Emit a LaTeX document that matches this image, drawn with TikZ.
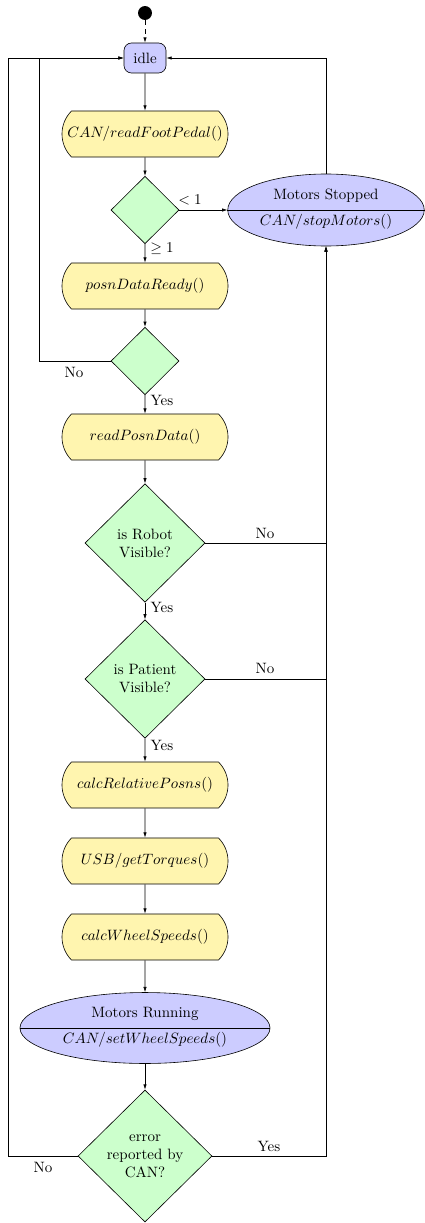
\documentclass[tikz,border=0pt]{standalone}
\usetikzlibrary{shapes.geometric,shapes.misc,arrows.meta}
\definecolor{stateblue}{RGB}{204,204,255}
\definecolor{procyellow}{RGB}{255,245,175}
\definecolor{decgreen}{RGB}{204,255,204}
\begin{document}
\begin{tikzpicture}[x=0.6667pt,y=-0.6667pt,
  every node/.style={inner sep=0pt},
  startdot/.style={circle,fill=black,minimum size=9.3pt},
  idlebox/.style={rectangle,rounded corners=5pt,draw,fill=stateblue,minimum width=28pt,minimum height=20pt},
  procbox/.style={rounded rectangle,rounded rectangle arc length=90,draw,fill=procyellow,minimum width=110.7pt,minimum height=30.7pt},
  decision/.style={diamond,aspect=1,draw,fill=decgreen,align=center},
  statell/.style={ellipse,draw,fill=stateblue},
  conn/.style={-{Latex[length=3.5pt,width=2.2pt]}},
  lbl/.style={inner sep=0pt}
]
\useasboundingbox (0,0) rectangle (424,1223);

% nodes of the main column
\node[startdot] (start) at (145,13) {};
\node[idlebox] (idle) at (145,58) {idle};
\node[procbox] (pedal) at (145,134) {$CAN/readFootPedal()$};
\node[decision,minimum width=45.3pt,minimum height=45pt] (dpedal) at (145,210) {};
\node[procbox] (ready) at (145,286) {$posnDataReady()$};
\node[decision,minimum width=45.3pt,minimum height=45pt] (dready) at (145,361) {};
\node[procbox] (readposn) at (145,437) {$readPosnData()$};
\node[decision,minimum width=80pt,minimum height=79pt] (drobot) at (145,543) {is Robot\\Visible?};
\node[decision,minimum width=80pt,minimum height=79pt] (dpatient) at (145,679) {is Patient\\Visible?};
\node[procbox] (relposn) at (145,785) {$calcRelativePosns()$};
\node[procbox] (torques) at (145,861) {$USB/getTorques()$};
\node[procbox] (wheels) at (145,937) {$calcWheelSpeeds()$};
\node[statell,minimum width=166.7pt,minimum height=47.3pt] (running) at (145,1028) {};
\draw (running.west) -- (running.east);
\node (runtop) at (145,1014) {Motors Running};
\node (runbot) at (145,1040) {$CAN/setWheelSpeeds()$};
\node[decision,minimum width=89.3pt,minimum height=88pt] (derror) at (145,1156) {error\\reported by\\CAN?};

% stopped state on the right
\node[statell,minimum width=131pt,minimum height=48pt] (stop) at (326,210) {};
\draw (stop.west) -- (stop.east);
\node (stoptop) at (326,196) {Motors Stopped};
\node (stopbot) at (326,222) {$CAN/stopMotors()$};

% turning points of the loops back to idle
\coordinate (innerturn) at (39,58);
\coordinate (outerturn) at (8,58);

% main flow
\draw[conn,dashed] (start) -- (idle);
\draw[conn] (idle) -- (pedal);
\draw[conn] (pedal) -- (dpedal);
\draw[conn] (dpedal) -- (stop);
\draw[conn] (dpedal) -- (ready);
\draw[conn] (ready) -- (dready);
\draw[conn] (dready) -- (readposn);
\draw[conn] (readposn) -- (drobot);
\draw[conn] (drobot) -- (dpatient);
\draw[conn] (dpatient) -- (relposn);
\draw[conn] (relposn) -- (torques);
\draw[conn] (torques) -- (wheels);
\draw[conn] (wheels) -- (running);
\draw[conn] (running) -- (derror);

% loops
\draw[conn] (stop.north) |- (idle.east);
\draw[conn] (dready.west) -| (innerturn) -- (idle.west);
\draw[conn] (derror.west) -| (outerturn) -- (idle.west);
\draw[conn] (drobot.east) -| (stop.south);
\draw[conn] (dpatient.east) -| (stop.south);
\draw[conn] (derror.east) -| (stop.south);

% branch labels
\node[lbl] (lless) at (190,200) {$<1$};
\node[lbl] (lgeq) at (162,249) {$\geq 1$};
\node[lbl] (lreadyno) at (74,372) {No};
\node[lbl] (lreadyyes) at (162,400) {Yes};
\node[lbl] (lrobotno) at (265,533) {No};
\node[lbl] (lrobotyes) at (162,607) {Yes};
\node[lbl] (lpatientno) at (265,668) {No};
\node[lbl] (lpatientyes) at (162,745) {Yes};
\node[lbl] (lerroryes) at (269,1146) {Yes};
\node[lbl] (lerrorno) at (43,1167) {No};
\end{tikzpicture}
\end{document}
